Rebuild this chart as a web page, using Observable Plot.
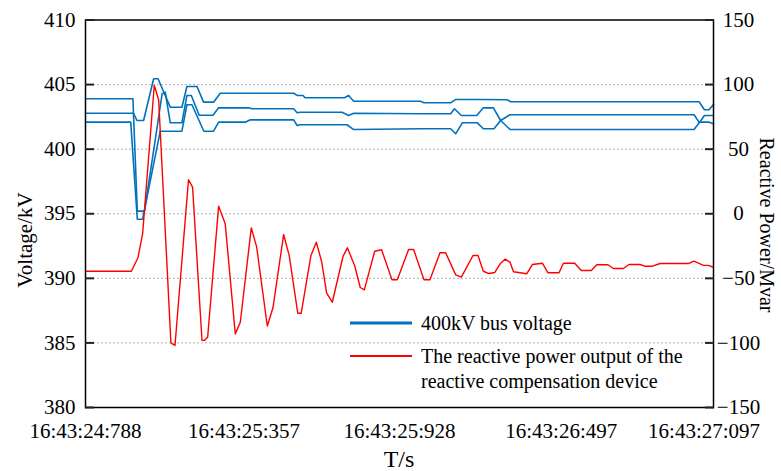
<!DOCTYPE html>
<html><head><meta charset="utf-8">
<script src="https://cdn.jsdelivr.net/npm/d3@7"></script>
<script src="https://cdn.jsdelivr.net/npm/@observablehq/plot@0.6"></script>
<style>
html,body{margin:0;padding:0;background:#fff;}
#chart{width:781px;height:471px;}
</style></head><body><div id="chart"></div>
<script>
// ---- tick labels / axes ----
const xTickPositions = [0, 50.5, 100, 151.5, 197];
const xTickLabels = ["16:43:24:788", "16:43:25:357", "16:43:25:928", "16:43:26:497", "16:43:27:097"];
const voltageTicks = [380, 385, 390, 395, 400, 405, 410];
const powerTicks = [-150, -100, -50, 0, 50, 100, 150];

// ---- 400kV bus voltage, three phases (sample index, kV) ----
const phaseA_t = [0, 15.3, 16.4, 18.5, 21.7, 23.1, 27.0, 30.7, 32.3, 35.5, 37.6, 40.8, 42.9, 66.3, 67.4, 69.3, 69.9, 82.5, 83.8, 85.4, 106.7, 107.8, 116.3, 117.9, 126.4, 134.3, 135.4, 195.4, 197.1, 198.6, 200];
const phaseA_v = [402.78, 402.78, 402.22, 402.22, 405.45, 405.45, 403.25, 403.25, 404.85, 404.85, 403.64, 403.64, 404.33, 404.33, 404.16, 404.16, 403.98, 403.98, 404.16, 403.71, 403.71, 403.59, 403.59, 403.85, 403.85, 403.83, 403.67, 403.67, 403.05, 403.05, 403.46];

const phaseB_t = [0, 15.1, 16.5, 18.8, 24.4, 25.4, 27.0, 30.7, 32.3, 33.7, 36.2, 40.6, 42.4, 52.0, 53.0, 66.3, 67.4, 68.4, 81.7, 83.8, 85.4, 106.7, 116.3, 117.5, 119.7, 124.6, 126.7, 129.9, 132.2, 135.2, 193.8, 196.0, 197.1, 200];
const phaseB_v = [403.90, 403.90, 395.20, 395.20, 404.29, 404.41, 402.04, 402.04, 404.16, 404.16, 402.63, 402.63, 403.20, 403.20, 403.13, 403.13, 402.82, 402.86, 402.86, 402.61, 402.78, 402.74, 402.74, 403.13, 402.61, 402.61, 403.20, 403.20, 402.22, 401.52, 401.52, 402.22, 402.61, 402.61];

const phaseC_t = [0, 14.4, 16.5, 18.2, 23.8, 30.7, 32.3, 33.9, 37.7, 40.8, 42.4, 50.9, 52.5, 66.3, 67.4, 68.4, 83.3, 85.4, 106.7, 116.3, 117.9, 120.0, 124.8, 126.7, 130.1, 132.2, 135.2, 193.8, 195.4, 198.6, 200];
const phaseC_v = [402.09, 402.09, 394.58, 394.58, 401.39, 401.39, 403.44, 403.44, 401.39, 401.39, 402.09, 402.09, 402.27, 402.27, 401.83, 401.89, 401.89, 401.52, 401.58, 401.58, 401.19, 402.04, 402.04, 401.58, 401.58, 402.22, 402.66, 402.66, 402.09, 402.09, 401.96];

// ---- reactive power output of compensation device (sample index, Mvar) ----
const power_t = [0, 14.6, 16.7, 18.2, 21.9, 23.3, 27.2, 28.5, 32.8, 34.1, 37.1, 37.9, 38.9, 42.4, 44.5, 47.7, 49.3, 52.8, 54.5, 57.9, 59.7, 63.1, 64.9, 67.6, 68.7, 71.8, 73.5, 75.2, 76.8, 78.6, 82.0, 83.4, 85.7, 87.5, 88.8, 92.1, 94.3, 97.6, 99.3, 102.9, 104.5, 107.8, 109.7, 112.9, 114.7, 117.9, 119.7, 123.4, 125.0, 126.7, 128.5, 130.3, 132.2, 133.6, 135.2, 136.3, 140.5, 142.3, 145.5, 147.3, 150.8, 152.2, 155.8, 157.9, 161.1, 162.8, 166.4, 168.1, 171.3, 173.1, 176.6, 178.1, 180.6, 183.0, 192.2, 193.8, 196.8, 198.3, 200];
const power_q = [-44.5, -44.5, -34.1, -15.3, 99.3, 88.2, -100, -102, 26.3, 20.6, -98, -98, -95.6, 5.9, -7.8, -93, -84, -10.9, -25.6, -86.9, -72.8, -16.1, -32.6, -77, -77, -32.3, -22, -37, -61.5, -68.5, -33.1, -26.4, -40.1, -57.1, -58.9, -29, -27.9, -51.1, -51.1, -27.7, -27.7, -51.1, -51.1, -30.2, -30.2, -47.3, -49.1, -32.3, -32.3, -44.5, -46.3, -45.5, -38.3, -35.2, -37.5, -44.9, -46.5, -39.3, -38.3, -45.7, -45.7, -38.3, -38.3, -43.9, -43.9, -39.5, -39.5, -42.4, -42.4, -39.3, -39.3, -40.6, -40.6, -38.5, -38.5, -36.7, -40, -40, -41.4];

const seriesNames = ["400kV bus voltage", "The reactive power output of the", "reactive compensation device"];

// ---- build tables ----
const zip = (ts, vs, key) => ts.map((t, i) => ({t, [key]: vs[i]}));
const phases = [zip(phaseA_t, phaseA_v, "v"), zip(phaseB_t, phaseB_v, "v"), zip(phaseC_t, phaseC_v, "v")];
const power = zip(power_t, power_q, "q");

// map the right (Mvar) axis onto the left (kV) scale: -150..150 -> 380..410
const qToV = q => 380 + (q + 150) / 10;
const vToQ = v => Math.round((v - 380) * 10 - 150);
const fmtQ = q => (q < 0 ? "\u2212" + Math.abs(q) : String(q));

const FONT = "'Liberation Serif', 'Times New Roman', Times, serif";
const BLUE = "#0072BD";
const RED = "#FF0000";

const plot = Plot.plot({
  width: 781,
  height: 471,
  marginLeft: 85,
  marginRight: 68,
  marginTop: 19.5,
  marginBottom: 64,
  style: {fontFamily: FONT, color: "black", background: "white"},
  x: {domain: [0, 200]},
  y: {domain: [380, 410]},
  marks: [
    Plot.gridY(voltageTicks.slice(1, -1), {stroke: "#b4b4b4", strokeOpacity: 1, strokeDasharray: "2,2"}),
    ...phases.map(p => Plot.line(p, {x: "t", y: "v", stroke: BLUE, strokeWidth: 1.6})),
    Plot.line(power, {x: "t", y: d => qToV(d.q), stroke: RED, strokeWidth: 1.4}),
    Plot.frame({stroke: "black", strokeWidth: 1.5}),
    // inward ticks
    Plot.axisY(voltageTicks, {anchor: "left", tickSize: 9, dx: 9, fill: "none", stroke: "#222", strokeWidth: 2, label: null}),
    Plot.axisY(voltageTicks, {anchor: "right", tickSize: 9, dx: -9, fill: "none", stroke: "#222", strokeWidth: 2, label: null}),
    // tick labels
    Plot.axisY(voltageTicks, {anchor: "left", tickSize: 0, tickPadding: 10, fontSize: 21, label: null}),
    Plot.axisY(powerTicks.map(qToV), {anchor: "right", tickSize: 0, tickPadding: 25, textAnchor: "middle", fontSize: 21, tickFormat: v => fmtQ(vToQ(v)), label: null}),
    Plot.axisX(xTickPositions, {anchor: "bottom", tickSize: 0, tickPadding: 16, fontSize: 21, tickFormat: d => xTickLabels[xTickPositions.indexOf(d)], label: null})
  ]
});

document.getElementById("chart").appendChild(plot);

// ---- titles and legend ----
const svg = d3.select(plot);
svg.append("text").attr("transform", "translate(25,240) rotate(-90)")
  .attr("text-anchor", "middle").attr("dominant-baseline", "central")
  .style("font-family", FONT).style("font-size", "21px").text("Voltage/kV");
svg.append("text").attr("transform", "translate(767,225) rotate(90)")
  .attr("text-anchor", "middle").attr("dominant-baseline", "central")
  .style("font-family", FONT).style("font-size", "20px").text("Reactive Power/Mvar");
svg.append("text").attr("x", 399).attr("y", 459)
  .attr("text-anchor", "middle").attr("dominant-baseline", "central")
  .style("font-family", FONT).style("font-size", "24px").text("T/s");

const leg = svg.append("g");
leg.append("line").attr("x1", 350).attr("x2", 412).attr("y1", 323).attr("y2", 323).attr("stroke", BLUE).attr("stroke-width", 3.2);
leg.append("line").attr("x1", 350).attr("x2", 412).attr("y1", 356).attr("y2", 356).attr("stroke", RED).attr("stroke-width", 2.2);
[[seriesNames[0], 323], [seriesNames[1], 356], [seriesNames[2], 381]].forEach(([s, y]) => {
  leg.append("text").attr("x", 421).attr("y", y).attr("text-anchor", "start").attr("dominant-baseline", "central")
    .style("font-family", FONT).style("font-size", "20px").text(s);
});
</script>
</body></html>
